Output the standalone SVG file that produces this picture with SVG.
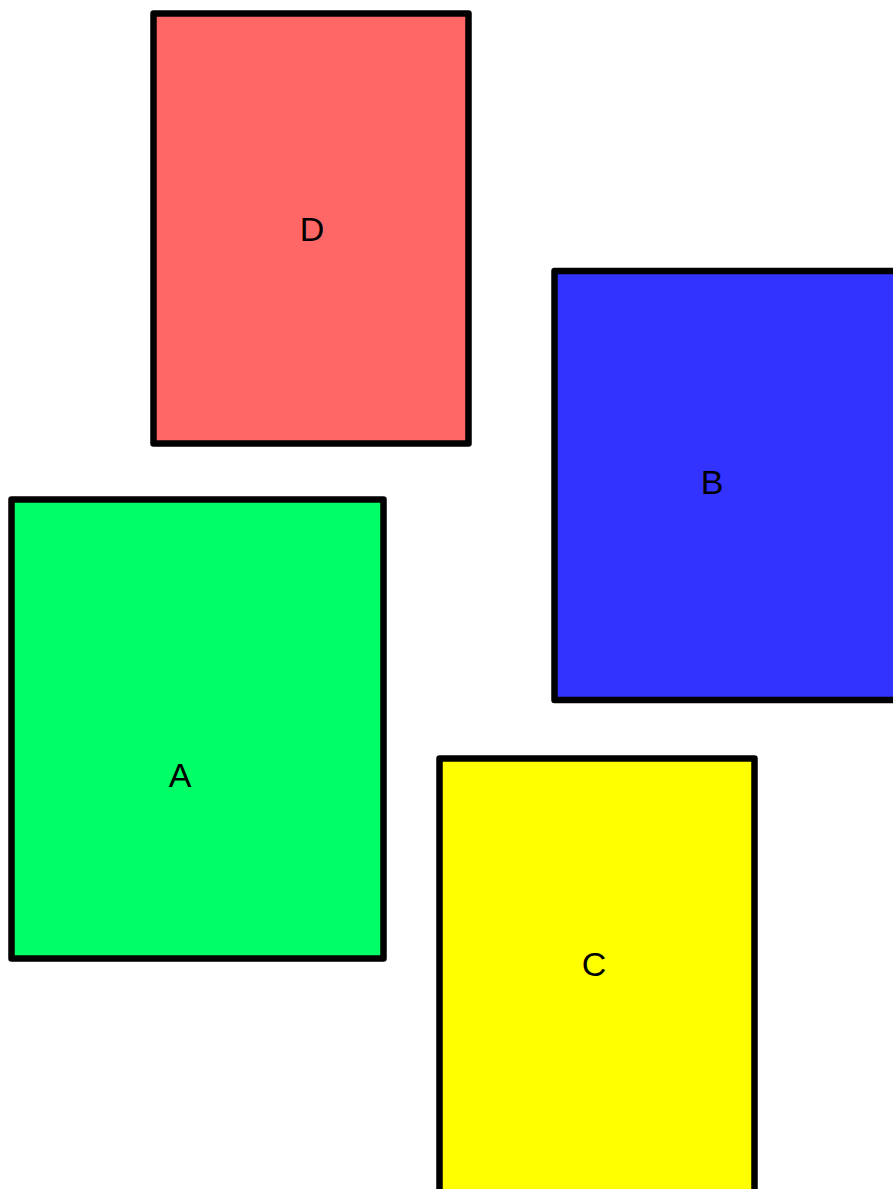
<svg xmlns="http://www.w3.org/2000/svg" width="893" height="1189" viewBox="0 0 893 1189">
<style>
.box{stroke:#000;stroke-width:6.5;stroke-linejoin:round}
.lbl{font-family:"Liberation Sans",Arial,sans-serif;font-size:34px;fill:#000;text-anchor:middle;dominant-baseline:central}
</style>
<rect width="893" height="1189" fill="#fff"/>
<g id="nodeD"><rect class="box" x="153.5" y="13.5" width="315" height="430" fill="#ff6666"/><text class="lbl" x="312" y="229">D</text></g>
<g id="nodeB"><rect class="box" x="554.5" y="271" width="360" height="429" fill="#3333ff"/><text class="lbl" x="712" y="482">B</text></g>
<g id="nodeA"><rect class="box" x="11.5" y="499.5" width="372" height="459" fill="#00ff66"/><text class="lbl" x="180" y="775">A</text></g>
<g id="nodeC"><rect class="box" x="439.5" y="758.5" width="315" height="440" fill="#ffff00"/><text class="lbl" x="594" y="964">C</text></g>
<g id="connectors"></g>
</svg>
